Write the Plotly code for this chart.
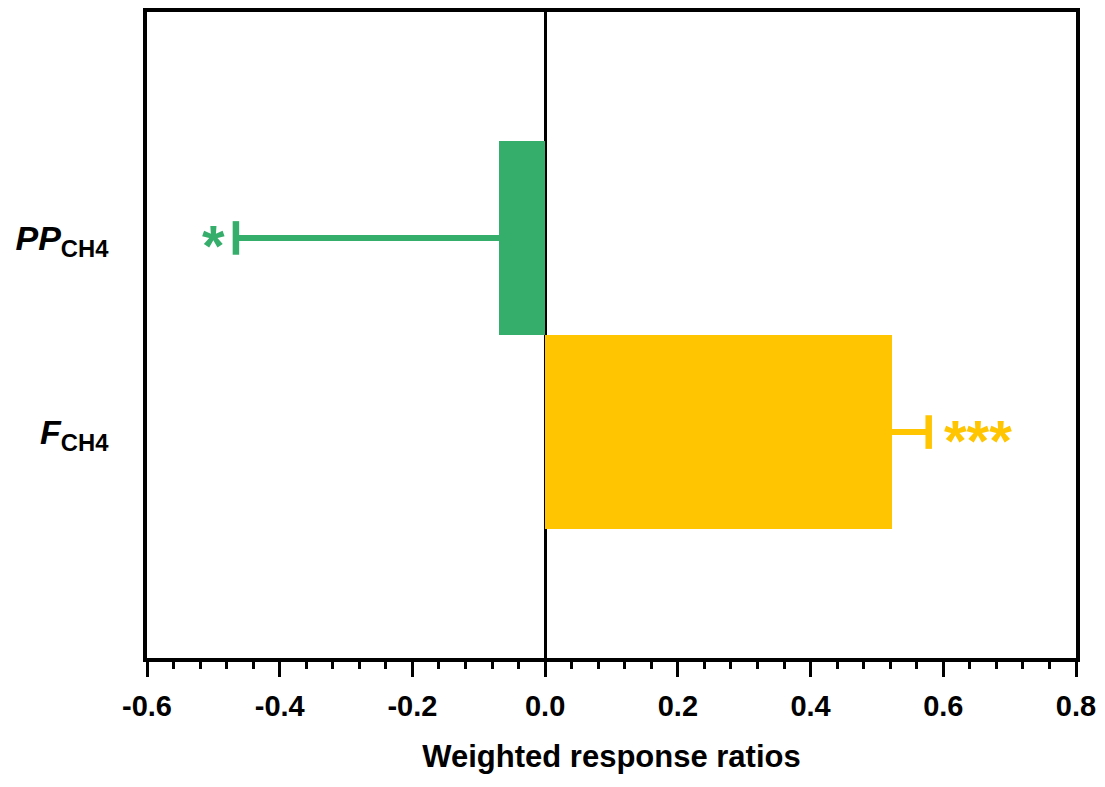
import plotly.graph_objects as go

categories = ["<b><i>PP</i></b><sub><b>CH4</b></sub>", "<b><i>F</i></b><sub><b>CH4</b></sub>"]
y_pos = [0, 1]
values = [-0.07, 0.522]
err_plus = [0.0, 0.056]
err_minus = [0.396, 0.0]
colors = ["#36AE6B", "#FFC500"]
sig_labels = ["*", "***"]
sig_x = [-0.5, 0.652]
x_ticks = [-0.6, -0.4, -0.2, 0.0, 0.2, 0.4, 0.6, 0.8]

fig = go.Figure()
for i in range(2):
    fig.add_trace(go.Bar(
        x=[values[i]], y=[y_pos[i]], orientation="h", width=1.0,
        marker=dict(color=colors[i], line=dict(width=0)),
        error_x=dict(type="data", symmetric=False, array=[err_plus[i]],
                     arrayminus=[err_minus[i]], color=colors[i],
                     thickness=6.5, width=0),
        showlegend=False,
    ))
    end_x = values[i] + err_plus[i] - err_minus[i]
    fig.add_trace(go.Scatter(
        x=[end_x], y=[y_pos[i]], mode="markers",
        marker=dict(symbol="line-ns", size=24, color=colors[i],
                    line=dict(color=colors[i], width=6.5)),
        showlegend=False, hoverinfo="skip",
    ))
    fig.add_annotation(x=sig_x[i], y=y_pos[i], text="<b>" + sig_labels[i] + "</b>",
                       showarrow=False, font=dict(family="Liberation Sans, Arial", size=58, color=colors[i]),
                       yshift=-8, xref="x", yref="y")

fig.update_layout(
    width=1105, height=787,
    margin=dict(l=139, r=37, t=0, b=137),
    plot_bgcolor="white", paper_bgcolor="white",
    font=dict(family="Liberation Sans, Arial", color="black"),
    bargap=0,
)
fig.update_xaxes(
    range=[-0.6, 0.8], tickvals=x_ticks,
    ticktext=["<b>%.1f</b>" % v for v in x_ticks],
    ticks="outside", ticklen=15, tickwidth=3, tickcolor="black",
    minor=dict(ticks="outside", ticklen=7, tickwidth=3, tickcolor="black", dtick=0.04, tick0=-0.6),
    showline=True, linewidth=3.5, linecolor="black", mirror=True,
    zeroline=True, zerolinecolor="black", zerolinewidth=3,
    showgrid=False, tickfont=dict(size=29), ticklabelstandoff=4,
    title=dict(text="<b>Weighted response ratios</b>", font=dict(size=31), standoff=26),
)
fig.update_yaxes(
    range=[2.164, -1.164], tickvals=y_pos, ticktext=categories,
    ticks="", showline=True, linewidth=3.5, linecolor="black", mirror=True,
    showgrid=False, zeroline=False, tickfont=dict(size=34), ticklabelstandoff=28,
)
fig.write_html("out.html")
